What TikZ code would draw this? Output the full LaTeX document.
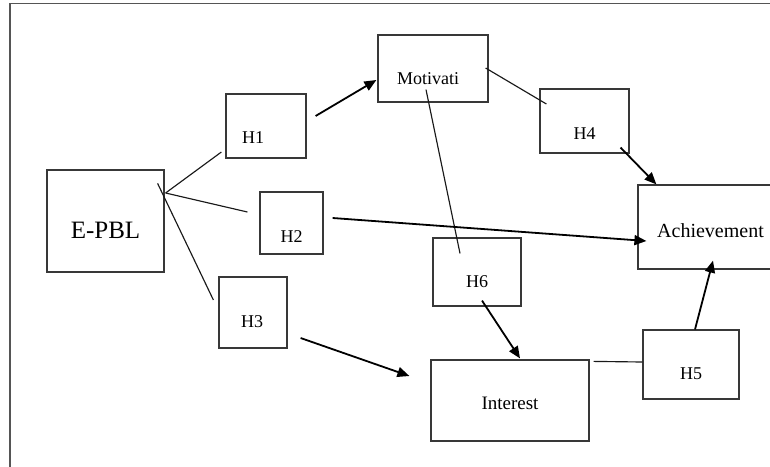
\documentclass[tikz,border=0pt]{standalone}
\usepackage{fontspec}
\setmainfont{Liberation Serif}
\usetikzlibrary{arrows.meta,calc}
\definecolor{boxgray}{HTML}{383838}
\definecolor{framegray}{HTML}{555555}
\tikzset{
  box/.style={draw=boxgray, line width=1.2pt, rectangle, inner sep=0pt},
  plainline/.style={draw=black!90, line width=1.15pt},
  arrowline/.style={draw=black, line width=1.8pt, -{Triangle[length=12pt,width=10pt]}},
  lab/.style={font=\fontsize{18}{18}\selectfont}
}
\begin{document}
\begin{tikzpicture}[x=1pt,y=-1pt]
\useasboundingbox (0,0) rectangle (770,466);
\clip (0,0) rectangle (770,466);
% frame (only top and left edges visible)
\draw[framegray, line width=1.3pt] (10,500) -- (10,3.5) -- (800,3.5);

% boxes
\node[box, minimum width=117pt, minimum height=102pt,
  label={[shift={(0pt,-9pt)},font=\fontsize{25}{25}\selectfont]center:E-PBL}] (epbl) at (105.5,221) {};
\node[box, minimum width=80pt, minimum height=64pt,
  label={[shift={(-13pt,-12pt)},lab]center:H1}] (h1) at (266,126) {};
\node[box, minimum width=63pt, minimum height=62pt,
  label={[shift={(0pt,-14pt)},lab]center:H2}] (h2) at (291.5,223) {};
\node[box, minimum width=68pt, minimum height=71pt,
  label={[shift={(-1pt,-9.5pt)},lab]center:H3}] (h3) at (253,312.5) {};
\node[box, minimum width=110pt, minimum height=67pt,
  label={[shift={(-5pt,-10pt)},lab]center:Motivati}] (mot) at (433,68.5) {};
\node[box, minimum width=89pt, minimum height=64pt,
  label={[shift={(0pt,-13pt)},lab]center:H4}] (h4) at (584.5,121) {};
\node[box, minimum width=147pt, minimum height=84pt,
  label={[shift={(-1pt,-4pt)},font=\fontsize{20}{20}\selectfont]center:Achievement}] (ach) at (711.5,227) {};
\node[box, minimum width=88pt, minimum height=68pt,
  label={[shift={(0pt,-10pt)},lab]center:H6}] (h6) at (477,272) {};
\node[box, minimum width=158pt, minimum height=81pt,
  label={[shift={(0pt,-2.5pt)},font=\fontsize{19}{19}\selectfont]center:Interest}] (int) at (510,400.5) {};
\node[box, minimum width=96pt, minimum height=69pt,
  label={[shift={(0pt,-9.5pt)},lab]center:H5}] (h5) at (691,364.5) {};

% plain connectors
\draw[plainline] ($(epbl.east)+(1,-28)$) -- ($(h1.west)+(-4,26)$);
\draw[plainline] ($(epbl.east)+(1,-28)$) -- ($(h2.west)+(-12,-11)$);
\draw[plainline] ($(epbl.north east)+(-7,14)$) -- ($(h3.west)+(-5,-12.5)$);
\draw[plainline] ($(mot.east)+(-3,-0.5)$) -- ($(h4.west)+(7,-17)$);
\draw[plainline] ($(mot.south)+(-7,-13)$) -- ($(h6.north)+(-17,16)$);
\draw[plainline] ($(int.north east)+(4,2)$) -- ($(h5.west)+(0,-2.5)$);

% arrows
\draw[arrowline] ($(h1.east)+(9,-10)$) -- ($(mot.west)+(-1,11.5)$);
\draw[arrowline] ($(h4.south east)+(-9,-6)$) -- ($(ach.north west)+(19,0)$);
\draw[arrowline] ($(h2.east)+(9,-5)$) -- ($(ach.west)+(9,14)$);
\draw[arrowline] ($(h6.south)+(5,-6)$) -- ($(int.north)+(10,-1)$);
\draw[arrowline] ($(h3.east)+(13,25.5)$) -- ($(int.west)+(-21,-24.5)$);
\draw[arrowline] ($(h5.north)+(4,0)$) -- ($(ach.south)+(1.5,-9)$);
\end{tikzpicture}
\end{document}
